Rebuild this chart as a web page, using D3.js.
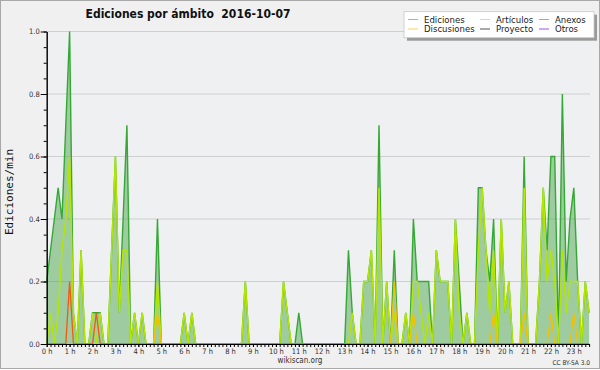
<!DOCTYPE html>
<html>
<head>
<meta charset="utf-8">
<script src="https://cdn.jsdelivr.net/npm/d3@7"></script>
<style>
  body { margin: 0; background: #fff; }
  svg { display: block; }
</style>
</head>
<body>
<div id="chart"></div>
<script>
// Data: one value every 10 minutes, 00:00 .. 23:40 (edits per minute)
const hourLabels = d3.range(24).map(h => h + " h");
const yTicks = [0, 0.2, 0.4, 0.6, 0.8, 1.0];

const ediciones = [
  0.2, 0.3, 0.4, 0.5, 0.4, 0.7,   // 0 h
  1.0, 0.1, 0, 0.3, 0, 0,         // 1 h
  0.1, 0.1, 0.1, 0, 0, 0.3,       // 2 h
  0.6, 0.1, 0.4, 0.7, 0, 0.1,     // 3 h
  0, 0.1, 0, 0, 0, 0.4,           // 4 h
  0, 0, 0, 0, 0, 0,               // 5 h
  0.1, 0, 0.1, 0, 0, 0,           // 6 h
  0, 0, 0, 0, 0, 0,               // 7 h
  0, 0, 0, 0, 0.2, 0,             // 8 h
  0, 0, 0, 0, 0, 0,               // 9 h
  0, 0, 0.2, 0.1, 0, 0,           // 10 h
  0.1, 0, 0, 0, 0, 0,             // 11 h
  0, 0, 0, 0, 0, 0,               // 12 h
  0, 0.3, 0.1, 0, 0, 0.2,         // 13 h
  0.2, 0.3, 0, 0.7, 0, 0.2,       // 14 h
  0, 0.3, 0, 0, 0.1, 0,           // 15 h
  0.4, 0.2, 0.2, 0.2, 0.2, 0,     // 16 h
  0.3, 0.2, 0.2, 0.2, 0, 0.4,     // 17 h
  0.2, 0, 0.1, 0, 0, 0.5,         // 18 h
  0.5, 0.3, 0.2, 0.4, 0, 0.4,     // 19 h
  0.1, 0.2, 0, 0, 0, 0.6,         // 20 h
  0, 0, 0, 0.2, 0.5, 0.3,         // 21 h
  0.6, 0.6, 0, 0.8, 0.2, 0.4,     // 22 h
  0.5, 0.2, 0, 0.2, 0.1           // 23 h
];

const articulos = [
  0, 0.1, 0, 0.1, 0.3, 0.4,
  0.6, 0.1, 0, 0.3, 0, 0,
  0.1, 0, 0.1, 0, 0, 0.3,
  0.6, 0.1, 0.3, 0.3, 0, 0.1,
  0, 0.1, 0, 0, 0, 0.2,
  0, 0, 0, 0, 0, 0,
  0.1, 0, 0.1, 0, 0, 0,
  0, 0, 0, 0, 0, 0,
  0, 0, 0, 0, 0.2, 0,
  0, 0, 0, 0, 0, 0,
  0, 0, 0.2, 0.1, 0, 0,
  0, 0, 0, 0, 0, 0,
  0, 0, 0, 0, 0, 0,
  0, 0, 0.1, 0, 0, 0.2,
  0.2, 0.3, 0, 0.5, 0, 0.2,
  0, 0.1, 0, 0, 0.1, 0,
  0.2, 0.2, 0.1, 0, 0.1, 0,
  0.3, 0.2, 0.2, 0.2, 0, 0.4,
  0.1, 0, 0.1, 0, 0, 0.3,
  0.5, 0.3, 0.1, 0.3, 0, 0.4,
  0.1, 0.2, 0, 0, 0, 0.5,
  0, 0, 0, 0.2, 0.5, 0.2,
  0.3, 0.2, 0, 0.3, 0.1, 0.2,
  0.2, 0.2, 0, 0.2, 0.1
];

const anexos = [
  0, 0, 0, 0, 0, 0,
  0.2, 0, 0, 0, 0, 0,
  0, 0.1, 0, 0, 0, 0,
  0, 0, 0, 0, 0, 0,
  0, 0, 0, 0, 0, 0,
  0, 0, 0, 0, 0, 0,
  0, 0, 0, 0, 0, 0,
  0, 0, 0, 0, 0, 0,
  0, 0, 0, 0, 0, 0,
  0, 0, 0, 0, 0, 0,
  0, 0, 0, 0, 0, 0,
  0, 0, 0, 0, 0, 0,
  0, 0, 0, 0, 0, 0,
  0, 0, 0, 0, 0, 0,
  0, 0, 0, 0, 0, 0,
  0, 0, 0, 0, 0, 0,
  0, 0, 0, 0, 0, 0,
  0, 0, 0, 0, 0, 0,
  0, 0, 0, 0, 0, 0,
  0, 0, 0, 0, 0, 0,
  0, 0, 0, 0, 0, 0,
  0, 0, 0, 0, 0, 0,
  0, 0, 0, 0, 0, 0,
  0, 0, 0, 0, 0
];

const discusiones = [
  0, 0, 0, 0, 0, 0,
  0, 0, 0, 0, 0, 0,
  0, 0, 0, 0, 0, 0,
  0, 0, 0, 0, 0, 0,
  0, 0, 0, 0, 0, 0.1,
  0, 0, 0, 0, 0, 0,
  0, 0, 0, 0, 0, 0,
  0, 0, 0, 0, 0, 0,
  0, 0, 0, 0, 0, 0,
  0, 0, 0, 0, 0, 0,
  0, 0, 0, 0, 0, 0,
  0, 0, 0, 0, 0, 0,
  0, 0, 0, 0, 0, 0,
  0, 0, 0, 0, 0, 0,
  0, 0, 0, 0, 0, 0,
  0, 0.2, 0, 0, 0, 0,
  0.1, 0, 0, 0, 0, 0,
  0, 0, 0, 0, 0, 0,
  0, 0, 0, 0, 0, 0,
  0, 0, 0, 0.1, 0, 0,
  0, 0, 0, 0, 0, 0.1,
  0, 0, 0, 0, 0, 0,
  0.1, 0, 0, 0, 0, 0,
  0.1, 0, 0, 0, 0
];

const legendNames = ["Ediciones", "Artículos", "Anexos", "Discusiones", "Proyecto", "Otros"];
const legendColors = ["#7fcf7f", "#cdee6a", "#f49060", "#f6d452", "#555555", "#9955ee"];

// Set up dimensions
const width = 600;
const height = 370;
const plotLeft = 46.7, plotRight = 590, plotTop = 31.5, plotBottom = 344;

const svg = d3.select("#chart")
    .append("svg")
    .attr("width", width)
    .attr("height", height);

// Outer frame
svg.append("rect")
    .attr("x", 0.5).attr("y", 0.5)
    .attr("width", width - 1).attr("height", 368)
    .attr("fill", "#f0f0f0")
    .attr("stroke", "#a8a8a8");

// Scales (x in minutes of the day)
const x = d3.scaleLinear()
    .domain([0, 1420])
    .range([plotLeft, 589.1]);

const y = d3.scaleLinear()
    .domain([0, 1])
    .range([plotBottom, plotTop]);

// Plot background
svg.append("rect")
    .attr("x", plotLeft).attr("y", plotTop)
    .attr("width", plotRight - plotLeft).attr("height", plotBottom - plotTop)
    .attr("fill", "#eef0f2");

// Grid lines
svg.append("g")
    .selectAll("line")
    .data(yTicks.slice(1))
    .enter().append("line")
    .attr("x1", plotLeft).attr("x2", plotRight)
    .attr("y1", d => y(d)).attr("y2", d => y(d))
    .attr("stroke", "#cfcfcf")
    .attr("stroke-width", 1);

const xi = (d, i) => x(i * 10);

// Filled area for Ediciones
svg.append("path")
    .datum(ediciones)
    .attr("d", d3.area().x(xi).y0(y(0)).y1(d => y(d)))
    .attr("fill", "rgb(60,160,60)")
    .attr("fill-opacity", 0.45);

const line = d3.line().x(xi).y(d => y(d));

const series = [
    { data: ediciones, color: "#35a835", w: 1.4 },
    { data: articulos, color: "#b4e600", w: 1.5 },
    { data: discusiones, color: "#f2c200", w: 1.3 },
    { data: anexos, color: "#f05a14", w: 1.3 }
];

svg.append("g")
    .selectAll("path")
    .data(series)
    .enter().append("path")
    .attr("d", d => line(d.data))
    .attr("fill", "none")
    .attr("stroke", d => d.color)
    .attr("stroke-width", d => d.w)
    .attr("stroke-linejoin", "miter");

// Axes
const axisFont = "'DejaVu Sans Condensed', 'DejaVu Sans', sans-serif";

const xMinor = d3.axisBottom(x)
    .tickValues(d3.range(0, 1421, 10))
    .tickSize(3).tickSizeOuter(0)
    .tickFormat("");

const xMajor = d3.axisBottom(x)
    .tickValues(d3.range(0, 1381, 60))
    .tickSize(3).tickSizeOuter(0).tickPadding(2)
    .tickFormat((d, i) => hourLabels[i]);

const yMinor = d3.axisLeft(y)
    .tickValues(d3.range(0, 1.0001, 0.05))
    .tickSize(3).tickSizeOuter(0)
    .tickFormat("");

const yMajor = d3.axisLeft(y)
    .tickValues(yTicks)
    .tickSize(6).tickSizeOuter(0).tickPadding(1)
    .tickFormat(d3.format(".1f"));

[xMinor, xMajor].forEach(a => {
    svg.append("g")
        .attr("transform", `translate(0,${plotBottom})`)
        .call(a);
});
[yMinor, yMajor].forEach(a => {
    svg.append("g")
        .attr("transform", `translate(${plotLeft},0)`)
        .call(a);
});

svg.selectAll(".domain").attr("stroke", "#000");
svg.selectAll(".tick line").attr("stroke", "#000");
svg.selectAll(".tick text")
    .attr("font-family", axisFont)
    .attr("font-size", 7.5)
    .attr("fill", "#333");

// Title
svg.append("text")
    .attr("x", 188).attr("y", 18.3)
    .attr("text-anchor", "middle")
    .attr("font-family", axisFont)
    .attr("font-weight", "bold")
    .attr("font-size", 12)
    .attr("fill", "#111")
    .attr("xml:space", "preserve")
    .text("Ediciones por ámbito  2016-10-07");

// Y axis title
svg.append("text")
    .attr("transform", "translate(13,192) rotate(-90)")
    .attr("text-anchor", "middle")
    .attr("font-family", "'DejaVu Sans Mono', monospace")
    .attr("font-size", 11)
    .attr("fill", "#111")
    .text("Ediciones/min");

// Footer texts
svg.append("text")
    .attr("x", 300).attr("y", 363)
    .attr("text-anchor", "middle")
    .attr("font-family", axisFont)
    .attr("font-size", 8)
    .attr("fill", "#333")
    .text("wikiscan.org");

svg.append("text")
    .attr("x", 590).attr("y", 365)
    .attr("text-anchor", "end")
    .attr("font-family", axisFont)
    .attr("font-size", 6.5)
    .attr("fill", "#333")
    .text("CC BY-SA 3.0");

// Legend
const legend = svg.append("g");
legend.append("rect")
    .attr("x", 407).attr("y", 14.7)
    .attr("width", 190).attr("height", 26)
    .attr("fill", "#9a9a9a");
legend.append("rect")
    .attr("x", 404).attr("y", 11.7)
    .attr("width", 190).attr("height", 26)
    .attr("fill", "#fff")
    .attr("stroke", "#c8c8c8")
    .attr("stroke-width", 0.8);

const colX = [408, 480, 539];
const rowY = [19.5, 29];

const items = legend.selectAll("g.item")
    .data(legendNames)
    .enter().append("g")
    .attr("transform", (d, i) => `translate(${colX[i % 3]},${rowY[Math.floor(i / 3)]})`);

items.append("line")
    .attr("x1", 0).attr("x2", 10)
    .attr("y1", 0).attr("y2", 0)
    .attr("stroke", (d, i) => legendColors[i])
    .attr("stroke-width", 1);

items.append("text")
    .attr("x", 16).attr("y", 3.2)
    .attr("font-family", axisFont)
    .attr("font-size", 9.5)
    .attr("fill", "#222")
    .text(d => d);
</script>
</body>
</html>
